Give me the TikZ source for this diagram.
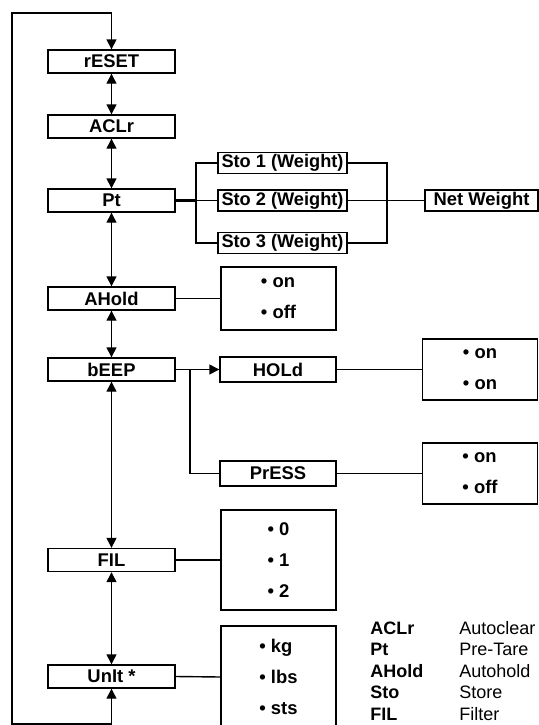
\documentclass[tikz,border=0pt]{standalone}
\usepackage{fontspec}
\setmainfont{Liberation Sans}
\usepackage{tikz}
\usetikzlibrary{arrows.meta, positioning}

\begin{document}
\begin{tikzpicture}[
    x=0.5pt, y=-0.5pt,
    menu/.style={rectangle, draw, line width=0.7pt, inner sep=0pt, minimum width=63.5pt, minimum height=11.5pt, font=\fontsize{9.2}{10}\selectfont\bfseries},
    subm/.style={rectangle, draw, line width=0.7pt, inner sep=0pt, minimum width=58pt, minimum height=12.5pt, font=\fontsize{9.2}{10}\selectfont\bfseries},
    stobox/.style={rectangle, draw, line width=0.7pt, inner sep=0pt, minimum width=64.5pt, minimum height=10.5pt, font=\fontsize{9.1}{10}\selectfont\bfseries},
    optbox/.style={rectangle, draw, line width=0.7pt, inner sep=0pt, minimum width=57.5pt, align=left, font=\fontsize{9.2}{15.5}\selectfont\bfseries},
    arrow/.style={-{Triangle[length=5pt, width=5pt]}, line width=0.7pt},
    darrow/.style={{Triangle[length=5pt, width=5pt]}-{Triangle[length=5pt, width=5pt]}, line width=0.7pt},
    link/.style={line width=0.7pt},
    keyw/.style={anchor=base west, inner sep=0pt, font=\fontsize{9}{10}\selectfont\bfseries},
    keyd/.style={anchor=base west, inner sep=0pt, font=\fontsize{9}{10}\selectfont}
]
\useasboundingbox (0,0) rectangle (538,725);

%% ── Main menu column (x = 111.5) ──────────────────────────────────
\node[menu] (reset) at (111.5, 61.5)  {rESET};
\node[menu] (aclr)  at (111.5,126.5)  {ACLr};
\node[menu] (pt)    at (111.5,200.5)  {Pt};
\node[menu] (ahold) at (111.5,298.5)  {AHold};
\node[menu] (beep)  at (111.5,369.5)  {bEEP};
\node[menu] (fil)   at (111.5,560)    {FIL};
\node[menu] (unit)  at (111.5,676.5)  {UnIt *};

%% ── Pre-tare stores ───────────────────────────────────────────────
\node[stobox] (sto1) at (282.5,163)   {Sto 1 (Weight)};
\node[stobox] (sto2) at (282.5,200.5) {Sto 2 (Weight)};
\node[stobox] (sto3) at (282.5,243)   {Sto 3 (Weight)};
\node[menu, minimum width=56.5pt, minimum height=10.5pt] (netw) at (481.5,200.5) {Net Weight};

%% ── Beep sub-menus ────────────────────────────────────────────────
\node[subm] (hold)  at (278,369.5) {HOLd};
\node[subm] (press) at (278,473.5) {PrESS};

%% ── Option boxes ──────────────────────────────────────────────────
\node[optbox, minimum height=31.5pt] (aholdopt) at (278.5,298.5) {\textbullet\ on\\\textbullet\ off};
\node[optbox, minimum height=30.5pt] (holdopt)  at (480,369.5)   {\textbullet\ on\\\textbullet\ on};
\node[optbox, minimum height=30.5pt] (pressopt) at (480,473.5)   {\textbullet\ on\\\textbullet\ off};
\node[optbox, minimum height=50pt]   (filopt)   at (278.5,560)   {\textbullet\ 0\\\textbullet\ 1\\\textbullet\ 2};
\node[optbox, minimum height=51pt]   (unitopt)  at (278.5,677)   {\textbullet\ kg\\\textbullet\ lbs\\\textbullet\ sts};

%% ── Legend ────────────────────────────────────────────────────────
\node[keyw] (k1) at (370,634)   {ACLr};
\node[keyw] (k2) at (370,655.5) {Pt};
\node[keyw] (k3) at (370,677)   {AHold};
\node[keyw] (k4) at (370,698.5) {Sto};
\node[keyw] (k5) at (370,720)   {FIL};
\node[keyd] (d1) at (459,634)   {Autoclear};
\node[keyd] (d2) at (459,655.5) {Pre-Tare};
\node[keyd] (d3) at (459,677)   {Autohold};
\node[keyd] (d4) at (459,698.5) {Store};
\node[keyd] (d5) at (459,720)   {Filter};

%% ── Helper points ─────────────────────────────────────────────────
\coordinate (looptop)   at (12,13);
\coordinate (loopbot)   at (12,724);
\coordinate (ptfork)    at (196,200.5);
\coordinate (stojoin)   at (387,200.5);
\coordinate (beepfork)  at (190,369.5);

%% ── Arrows ────────────────────────────────────────────────────────
%% menu chain
\draw[darrow] (reset.south) -- (aclr.north);
\draw[darrow] (aclr.south)  -- (pt.north);
\draw[darrow] (pt.south)    -- (ahold.north);
\draw[darrow] (ahold.south) -- (beep.north);
\draw[darrow] (beep.south)  -- (fil.north);
\draw[darrow] (fil.south)   -- (unit.north);

%% return loop
\draw[darrow] (reset.north) |- (looptop) -- (loopbot) -| (unit.south);

%% Pt -> stores -> net weight
\draw[link, line width=1.1pt] (pt.east) -- (ptfork);
\draw[link] (ptfork) -- (sto2.west);
\draw[link] (sto1.west) -| (ptfork) |- (sto3.west);
\draw[link] (sto1.east) -| (stojoin) |- (sto3.east);
\draw[link] (sto2.east) -- (netw.west);

%% bEEP branch
\draw[arrow] (beep.east) -- (hold.west);
\draw[link] (beepfork) |- (press.west);

%% options
\draw[link] (ahold.east) -- (aholdopt.west);
\draw[link] (hold.east)  -- (holdopt.west);
\draw[link] (press.east) -- (pressopt.west);
\draw[link] (fil.east)   -- (filopt.west);
\draw[link] (unit.east)  -- (unitopt.west);

\end{tikzpicture}
\end{document}
